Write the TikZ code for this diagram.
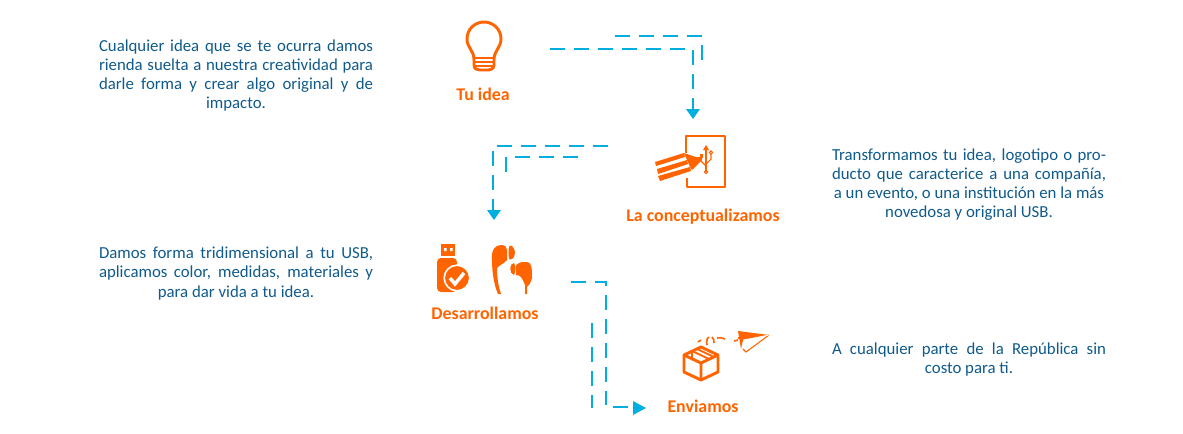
\documentclass[tikz,border=0pt]{standalone}
\usepackage{fontspec}
\setmainfont{Carlito}
\definecolor{orangeA}{HTML}{FF6400}
\definecolor{blueT}{HTML}{0F5A8C}
\definecolor{blueD}{HTML}{00AEE0}
\newcommand{\jl}[1]{\makebox[205.5pt][s]{#1}}
\tikzset{
  x=0.75pt,y=-0.75pt,
  para/.style={inner sep=0pt,align=center,text=blueT,font=\fontsize{12.6pt}{14.4pt}\selectfont},
  ttl/.style={inner sep=0pt,text=orangeA,font=\fontsize{13.4pt}{16pt}\selectfont\bfseries},
  dashline/.style={draw=blueD,line width=2.2pt,dash pattern=on 11pt off 7pt},
  dashthin/.style={draw=blueD,line width=1.7pt,dash pattern=on 11pt off 7pt},
  headtip/.style={fill=blueD,draw=none},
  ic/.style={draw=orangeA,line width=2.2pt,line join=round},
  icthin/.style={draw=orangeA,line width=0.8pt},
  icfill/.style={fill=orangeA,draw=none},
}
\begin{document}
\begin{tikzpicture}
\useasboundingbox (0,0) rectangle (1183,433);
% texts
\node[para] (t1) at (236,75.5) {\jl{Cualquier idea que se te ocurra damos}\\\jl{rienda suelta a nuestra creatividad para}\\\jl{darle forma y crear algo original y de}\\impacto.};
\node[para] (t2) at (969,184.5) {\jl{Transformamos tu idea, logotipo o pro-}\\\jl{ducto que caracterice a una compañía,}\\a un evento, o una institución en la más\\novedosa y original USB.};
\node[para] (t3) at (236,273.5) {\jl{Damos forma tridimensional a tu USB,}\\\jl{aplicamos color, medidas, materiales y}\\para dar vida a tu idea.};
\node[para] (t4) at (969,359.5) {\jl{A cualquier parte de la República sin}\\costo para ti.};
% titles
\node[ttl] (n1) at (483,94) {Tu idea};
\node[ttl] (n2) at (703,217) {La conceptualizamos};
\node[ttl] (n3) at (485,313) {Desarrollamos};
\node[ttl] (n4) at (703,406) {Enviamos};
% connector coordinates
\coordinate (a0) at (550,49); \coordinate (a1) at (693,49); \coordinate (a2) at (693,110);
\coordinate (b0) at (615,36); \coordinate (b1) at (702,36); \coordinate (b2) at (702,60);
\coordinate (c0) at (608,146); \coordinate (c1) at (493,146); \coordinate (c2) at (493,210);
\coordinate (d0) at (578,157); \coordinate (d1) at (506,157); \coordinate (d2) at (506,172);
\coordinate (e0) at (571,282); \coordinate (e1) at (606,282); \coordinate (e2) at (606,405);
\coordinate (f0) at (592,323); \coordinate (f1) at (592,408);
\coordinate (g0) at (613,407); \coordinate (g1) at (628,407);
\draw[dashline] (a0) -- (a1) -- (a2);
\draw[dashline] (b0) -- (b1) -- (b2);
\draw[dashline] (c0) -- (c1) -- (c2);
\draw[dashline] (d0) -- (d1) -- (d2);
\draw[dashline] (e0) -- (e1) -- (e2);
\draw[dashthin] (f0) -- (f1);
\draw[dashthin] (g0) -- (g1);
\fill[headtip] (686,109) -- (700,109) -- (693,119) -- cycle;
\fill[headtip] (487,210) -- (501,210) -- (494,220) -- cycle;
\fill[headtip] (633,401) -- (646,408) -- (633,415) -- cycle;
% bulb
\draw[ic] (474,60) .. controls (474,50) and (467,48) .. (467,39) .. controls (467,29) and (475,22) .. (484,22) .. controls (493,22) and (501,29) .. (501,39) .. controls (501,48) and (494,50) .. (494,60) -- (494,65) .. controls (494,69) and (490,70) .. (488,70) -- (480,70) .. controls (477,70) and (474,69) .. (474,65) -- cycle;
\draw[orangeA,line width=1.2pt] (474,58) -- (494,58) (474,62) -- (494,62) (475,66) -- (493,66);
% document + usb
\draw[ic,line cap=butt] (686,153) -- (686,136) -- (725,136) -- (725,187) -- (687,187) -- (687,178);
\fill[icfill] (655,162) -- (684,153) -- (685,157) -- (656,166) -- cycle;
\fill[icfill] (657,169) -- (687,160) -- (688,164) -- (658,174) -- cycle;
\fill[icfill] (658,176) -- (690,167) -- (691,171) -- (660,181) -- cycle;
\fill[icfill] (684,153) -- (696,157) -- (703,157) -- (701,161) -- (692,170) -- (690,167) -- cycle;
\draw[icthin] (706,149) -- (706,172);
\fill[icfill] (706,145) -- (709,150) -- (703,150) -- cycle;
\draw[icthin] (706,172) circle (1.7);
\draw[icthin] (706,166) -- (701,161) -- (701,155) (706,164) -- (711,159) -- (711,154);
\draw[icthin] (711,152.5) circle (1.6);
\fill[icfill] (699.5,154) rectangle (702.5,157);
% usb stick
\fill[icfill] (441,244) rectangle (455,256);
\fill[white] (444,248) rectangle (446.5,251) (450,248) rectangle (452.5,251);
\fill[icfill,rounded corners=3pt] (437,258) rectangle (457,292);
\fill[icfill] (457,278) circle (13);
\draw[white,line width=1.2pt] (457,278) circle (12.8);
\draw[white,line width=2.6pt] (450,278) -- (455,284) -- (464,273);
% earphones
\fill[icfill] (492,260) .. controls (491,250) and (495,245) .. (501,245) .. controls (505,245) and (507,247) .. (507,250) -- (507,260) .. controls (504,264) and (499,265) .. (497,268) .. controls (497,280) and (499,288) .. (501,294) -- (498,294) .. controls (494,285) and (492,272) .. (492,260) -- cycle;
\fill[icfill] (510,245.5) .. controls (516,246) and (517,259) .. (510,259.5) .. controls (508,259.5) and (508,246) .. (510,245.5) -- cycle;
\fill[icfill] (516,270) .. controls (514,265) and (518,263) .. (522,262) -- (527,262) .. controls (532,262) and (532,270) .. (532,278) .. controls (530,285) and (528,286) .. (527,287) -- (527,294) -- (525,294) -- (525,285) .. controls (522,278) and (521,275) .. (516,275) -- cycle;
\fill[icfill] (514,263) .. controls (509,263) and (509,274) .. (514,275) .. controls (516,272) and (516,266) .. (514,263) -- cycle;
% package
\draw[ic] (701,347) -- (718,355) -- (718,372) -- (701,380) -- (684,372) -- (684,355) -- cycle;
\draw[ic] (684,355) -- (701,363) -- (718,355) (701,363) -- (701,380);
\draw[orangeA,line width=1.4pt] (692,351) -- (709,359) (696,348.5) -- (714,357) (692,351) -- (692,360);
% flight marks
\draw[orangeA,line width=1.2pt] (698,342) -- (701,340);
\draw[orangeA,line width=1.2pt] (707,345) .. controls (706,339) and (708,337) .. (709,337);
\draw[orangeA,line width=1.2pt] (712,337) .. controls (714,338) and (714,341) .. (714,343);
\draw[orangeA,line width=1.2pt] (717,338) .. controls (722,337) and (724,339) .. (725,339);
\draw[orangeA,line width=1.2pt] (734,341) -- (738,340) (739,337) -- (739,339);
% plane
\fill[icfill] (738,331) -- (769,335) -- (743,340) -- (741,349) -- cycle;
\draw[icthin] (743,349) -- (746,352) -- (769,335);
\draw[white,line width=0.5pt] (743,340) -- (769,335);
\end{tikzpicture}
\end{document}
